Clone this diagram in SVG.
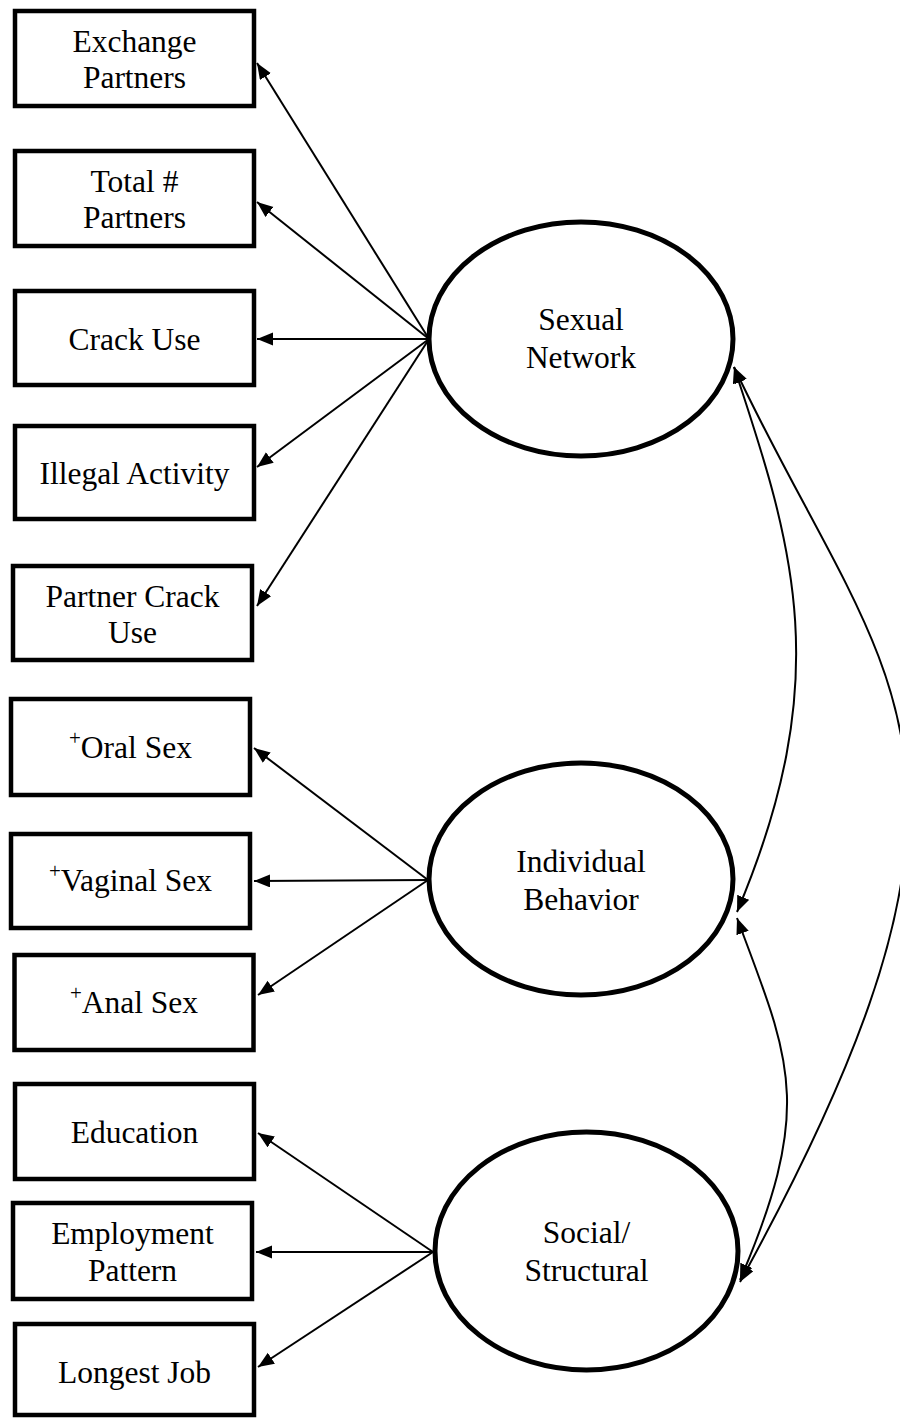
<svg xmlns="http://www.w3.org/2000/svg" width="900" height="1418" viewBox="0 0 900 1418">
<style>
.box{fill:#fff;stroke:#000;stroke-width:4.5}
.ell{fill:#fff;stroke:#000;stroke-width:5}
.t{font-family:"Liberation Serif","Times New Roman",serif;font-size:31.5px;fill:#000;text-anchor:middle}
.sup{font-size:21px}
.c{fill:none;stroke:#000;stroke-width:2}
</style>
<defs>
<marker id="ah" markerUnits="userSpaceOnUse" markerWidth="18" markerHeight="14" refX="16" refY="6.5" orient="auto-start-reverse"><path d="M0,0 L16,6.5 L0,13 z" fill="#000"/></marker>
</defs>
<g id="connectors">
<line class="c" x1="429" y1="339" x2="257" y2="63" marker-end="url(#ah)"/>
<line class="c" x1="429" y1="339" x2="257" y2="202" marker-end="url(#ah)"/>
<line class="c" x1="429" y1="339" x2="257" y2="339" marker-end="url(#ah)"/>
<line class="c" x1="429" y1="339" x2="257" y2="467" marker-end="url(#ah)"/>
<line class="c" x1="429" y1="339" x2="257" y2="606" marker-end="url(#ah)"/>
<line class="c" x1="428" y1="880" x2="254" y2="748" marker-end="url(#ah)"/>
<line class="c" x1="428" y1="880" x2="254" y2="881" marker-end="url(#ah)"/>
<line class="c" x1="428" y1="880" x2="258" y2="995" marker-end="url(#ah)"/>
<line class="c" x1="433" y1="1252" x2="258" y2="1133" marker-end="url(#ah)"/>
<line class="c" x1="433" y1="1252" x2="256" y2="1252" marker-end="url(#ah)"/>
<line class="c" x1="433" y1="1252" x2="258" y2="1367" marker-end="url(#ah)"/>
<path class="c" d="M734,367 C795,550 835,680 737,912" marker-start="url(#ah)" marker-end="url(#ah)"/>
<path class="c" d="M737,918 C790,1060 815,1105 740,1280" marker-start="url(#ah)" marker-end="url(#ah)"/>
<path class="c" d="M734,367 C886,690 1031,752 740,1282" marker-start="url(#ah)" marker-end="url(#ah)"/>
</g>
<g id="exchange-partners"><rect class="box" x="15" y="11" width="239" height="95"/><text class="t" x="134.5" y="52">Exchange</text><text class="t" x="134.5" y="88">Partners</text></g>
<g id="total-partners"><rect class="box" x="15" y="151" width="239" height="95"/><text class="t" x="134.5" y="192">Total #</text><text class="t" x="134.5" y="228">Partners</text></g>
<g id="crack-use"><rect class="box" x="15" y="291" width="239" height="94"/><text class="t" x="134.5" y="350">Crack Use</text></g>
<g id="illegal-activity"><rect class="box" x="15" y="426" width="239" height="93"/><text class="t" x="134.5" y="484">Illegal Activity</text></g>
<g id="partner-crack-use"><rect class="box" x="13" y="566" width="239" height="94"/><text class="t" x="132.5" y="607">Partner Crack</text><text class="t" x="132.5" y="643">Use</text></g>
<g id="oral-sex"><rect class="box" x="11" y="699" width="239" height="96"/><text class="t" x="130.5" y="758"><tspan class="sup" dy="-13">+</tspan><tspan dy="13">Oral Sex</tspan></text></g>
<g id="vaginal-sex"><rect class="box" x="11" y="834" width="239" height="94"/><text class="t" x="130.5" y="891"><tspan class="sup" dy="-13">+</tspan><tspan dy="13">Vaginal Sex</tspan></text></g>
<g id="anal-sex"><rect class="box" x="14.5" y="955" width="239" height="95"/><text class="t" x="134" y="1013"><tspan class="sup" dy="-13">+</tspan><tspan dy="13">Anal Sex</tspan></text></g>
<g id="education"><rect class="box" x="15" y="1084" width="239" height="95"/><text class="t" x="134.5" y="1143">Education</text></g>
<g id="employment-pattern"><rect class="box" x="13" y="1203" width="239" height="96"/><text class="t" x="132.5" y="1244">Employment</text><text class="t" x="132.5" y="1281">Pattern</text></g>
<g id="longest-job"><rect class="box" x="15" y="1324" width="239" height="91"/><text class="t" x="134.5" y="1383">Longest Job</text></g>
<g id="sexual-network"><ellipse class="ell" cx="581" cy="339" rx="152" ry="117"/><text class="t" x="581" y="330">Sexual</text><text class="t" x="581" y="368">Network</text></g>
<g id="individual-behavior"><ellipse class="ell" cx="581" cy="879" rx="152" ry="116"/><text class="t" x="581" y="872">Individual</text><text class="t" x="581" y="910">Behavior</text></g>
<g id="social-structural"><ellipse class="ell" cx="586.5" cy="1251" rx="151.5" ry="119"/><text class="t" x="586.5" y="1243">Social/</text><text class="t" x="586.5" y="1281">Structural</text></g>
</svg>
